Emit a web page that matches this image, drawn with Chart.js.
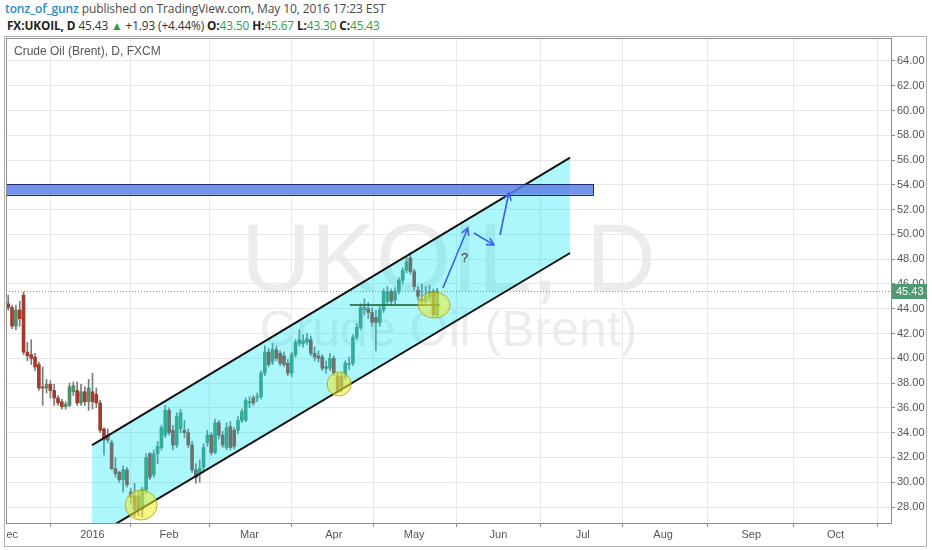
<!DOCTYPE html>
<html>
<head>
<meta charset="utf-8">
<script src="https://cdn.jsdelivr.net/npm/chart.js@4.4.0/dist/chart.umd.min.js"></script>
<style>
html,body{margin:0;padding:0;background:#fff;width:932px;height:550px;overflow:hidden;}
#h1{position:absolute;left:5px;top:0px;font-family:"Open Sans","Liberation Sans",sans-serif;font-size:12px;color:#4a4a4a;white-space:nowrap;letter-spacing:-0.1px}
#h1 .u{color:#2b8cc4;font-weight:600}
#h2{position:absolute;left:7px;top:17px;font-family:"Open Sans","Liberation Sans",sans-serif;font-size:11.8px;color:#333;white-space:nowrap;letter-spacing:-0.1px}
#h2 b{font-weight:700;color:#222}
#h2 .g{color:#2e9e3c}
.wm{position:absolute;font-family:"Liberation Sans",Arial,sans-serif;color:rgba(0,0,0,0.075);white-space:nowrap;text-align:center;width:885px;left:6px}
#wm1{top:208px;font-size:97px;line-height:100px}
#wm2{top:301px;font-size:50px;line-height:56px}
#sym{position:absolute;left:14px;top:44px;font-family:"Liberation Sans",Arial,sans-serif;font-size:12px;color:#555}
#q{position:absolute;left:461px;top:250px;font-family:"Liberation Sans",Arial,sans-serif;font-size:13px;color:#333}
#wrap{position:absolute;left:0;top:0;width:932px;height:550px}
</style>
</head>
<body>
<div id="h1"><span class="u">tonz_of_gunz</span> published on TradingView.com, May 10, 2016 17:23 EST</div>
<div id="h2"><b>FX:UKOIL, D</b> 45.43 <span class="g">&#9650;</span> +1.93 (+4.44%) <b>O:</b><span class="g">43.50</span> <b>H:</b><span class="g">45.67</span> <b>L:</b><span class="g">43.30</span> <b>C:</b><span class="g">45.43</span></div>
<div class="wm" id="wm1">UKOIL, D</div>
<div class="wm" id="wm2">Crude Oil (Brent)</div>
<div id="wrap"><canvas id="c" width="932" height="550"></canvas></div>
<div id="sym">Crude Oil (Brent), D, FXCM</div>
<div id="q">?</div>
<script>
// ---- data ----
const monthTickBars   = [-22, 0, 20, 41, 63, 84, 106, 128, 149, 172, 194];
const monthTickLabels = ['Dec', '2016', 'Feb', 'Mar', 'Apr', 'May', 'Jun', 'Jul', 'Aug', 'Sep', 'Oct'];
const firstBar = -22; // bar index of first candle (Jan 4 2016 = 0)

const opens  = [44.4,44.1,42.6,43.9,45.1,40.5,40.3,40.1,39.5,37.7,37.6,37.9,37.4,36.8,36.5,36.1,36.2,37.3,37.4,36.4,37.3,36.5,
                37.3,37.1,36.4,34.3,33.8,33.2,31.1,30.8,30.2,31.0,29.2,28.9,28.9,27.8,29.4,32.3,30.6,32.3,32.8,33.8,
                35.8,34.2,33.0,34.3,34.2,34.0,33.0,31.0,30.7,31.2,33.2,33.8,32.4,34.8,33.8,32.8,34.5,34.2,34.2,35.0,
                35.0,36.4,36.8,36.8,36.9,38.8,40.5,39.7,40.7,40.4,40.2,39.6,38.8,40.3,41.2,41.2,41.3,41.5,40.4,40.2,
                40.1,39.3,39.2,40.0,38.6,38.5,38.5,39.5,39.6,41.7,42.5,43.9,44.0,43.7,43.3,42.9,43.9,44.6,45.4,44.7,
                45.4,46.3,47.1,48.1,47.0,45.5,44.8,44.6,44.9,45.4,43.5];
const highs  = [45.1,44.3,44.3,44.6,45.35,41.3,41.5,40.4,39.7,39.3,38.3,38.2,37.9,37.0,36.7,36.5,38.0,38.1,38.1,37.9,37.7,38.3,
                38.8,37.6,36.6,34.4,34.3,33.4,32.0,30.9,31.3,31.2,29.5,29.9,29.3,29.6,32.3,32.4,32.6,33.3,34.6,36.2,
                36.0,34.6,35.6,35.9,35.0,34.3,33.3,31.5,31.8,33.1,34.2,34.0,35.1,35.0,34.1,34.8,34.9,34.4,35.3,35.9,
                36.8,36.9,37.0,37.2,39.0,41.0,40.8,41.2,41.0,40.6,40.5,39.9,40.5,41.5,42.3,41.9,42.0,41.8,40.9,40.6,
                40.3,39.8,40.4,40.2,38.8,38.8,39.8,40.1,41.9,42.8,44.4,44.8,44.5,44.1,43.9,44.2,45.6,45.8,45.6,45.7,
                46.5,47.3,48.2,48.5,47.2,45.8,46.0,45.8,45.9,45.6,45.67];
const lows   = [43.9,42.4,42.3,42.6,40.3,39.8,39.5,39.0,37.4,36.2,37.2,36.8,36.2,36.2,35.9,35.9,36.1,37.0,36.2,36.2,36.2,35.8,
                35.9,36.0,34.0,32.2,33.2,31.0,30.4,30.0,29.2,29.6,28.3,27.2,27.3,27.2,29.1,30.2,30.4,31.5,32.6,33.6,
                33.8,32.6,32.8,34.0,33.6,32.8,30.8,29.9,30.0,30.8,32.9,32.2,32.3,33.5,32.8,32.6,32.6,32.7,33.9,34.8,
                34.9,36.0,36.2,36.5,36.7,38.6,39.3,39.5,39.8,39.4,39.3,38.6,38.5,40.1,41.0,40.9,41.1,40.2,39.8,39.7,
                39.0,38.8,39.0,38.6,37.2,37.3,38.3,39.1,39.4,41.5,42.3,43.5,43.2,42.6,40.6,42.6,43.7,44.3,44.3,44.4,
                45.2,46.0,46.9,46.8,45.5,44.7,44.3,44.3,44.6,43.3,43.3];
const closes = [44.1,42.6,43.9,43.2,40.5,40.2,40.0,39.3,37.6,37.6,37.9,37.4,36.8,36.4,36.1,36.3,37.7,37.8,36.4,37.3,36.5,37.6,
                36.5,36.4,34.2,33.4,33.4,31.1,30.7,30.2,31.0,29.8,28.8,27.8,27.8,29.4,32.0,30.4,32.3,32.9,34.4,35.8,
                34.0,33.0,35.3,35.6,34.0,33.0,31.0,30.4,31.1,32.8,33.8,32.4,34.8,33.8,33.0,34.4,32.8,32.9,35.0,35.7,
                36.6,36.5,36.4,36.9,38.8,40.5,39.5,40.7,40.0,39.6,39.5,38.8,40.3,41.3,41.5,41.4,41.6,40.4,40.1,40.0,
                39.2,39.2,40.0,38.8,37.4,37.7,39.6,39.6,41.7,42.5,44.1,44.1,43.7,42.9,42.9,43.9,45.4,45.4,44.6,45.4,
                46.3,47.1,47.8,47.0,45.8,45.0,44.6,45.0,45.4,43.5,45.43];
const lastClose = 45.43;

// drawings (bar index, price)
const channelX     = [-0.1, 124.7];
const channelUpper = [33.0, 56.2];
const channelLower = [25.5, 48.5];
const zoneX = [-22.6, 130.7];
const zoneY = [53.2, 54.05];
const circleX = [12.7, 64.4, 89.2];
const circleY = [28.16, 37.93, 44.30];
const hLineX = [67.2, 90.7];
const hLineY = 44.3;
const arrowFrom = [[91.5, 45.68], [99.6, 50.11], [106.4, 49.95]];
const arrowTo   = [[98.0, 50.52], [104.8, 49.15], [108.7, 53.34]];

// ---- chart ----
const UP = '#4f8f6b', DOWN = '#a33a2b', WICK = '#7c7c7c';
const bodyData = opens.map((o, k) => ({x: firstBar + k, y: [o, closes[k]]}));
const wickData = opens.map((o, k) => ({x: firstBar + k, y: [lows[k], highs[k]]}));
const colorOf = ctx => closes[ctx.dataIndex] >= opens[ctx.dataIndex] ? UP : DOWN;

const overlay = {
  id: 'overlay',
  beforeDatasetsDraw(chart) {
    const {ctx, chartArea: a, scales: {x, y}} = chart;
    ctx.save();
    ctx.strokeStyle = '#8a8a8a';
    ctx.lineWidth = 1;
    ctx.setLineDash([1, 2]);
    const py = Math.round(y.getPixelForValue(lastClose)) + 0.5;
    ctx.beginPath(); ctx.moveTo(a.left, py); ctx.lineTo(a.right, py); ctx.stroke();
    ctx.restore();
  },
  afterDatasetsDraw(chart) {
    const {ctx, chartArea: a, scales: {x, y}} = chart;
    ctx.save();
    ctx.beginPath(); ctx.rect(a.left, a.top, a.right - a.left, a.bottom - a.top); ctx.clip();
    // horizontal green line
    ctx.strokeStyle = 'rgba(40,110,60,0.85)';
    ctx.lineWidth = 2;
    ctx.beginPath();
    ctx.moveTo(x.getPixelForValue(hLineX[0]), y.getPixelForValue(hLineY));
    ctx.lineTo(x.getPixelForValue(hLineX[1]), y.getPixelForValue(hLineY));
    ctx.stroke();
    // yellow circles
    const rx = [16, 12, 16], ry = [15, 12, 13];
    circleX.forEach((cx, k) => {
      ctx.beginPath();
      ctx.ellipse(x.getPixelForValue(cx), y.getPixelForValue(circleY[k]), rx[k], ry[k], 0, 0, Math.PI * 2);
      ctx.fillStyle = 'rgba(240,235,40,0.55)';
      ctx.fill();
      ctx.strokeStyle = 'rgba(170,160,30,0.8)';
      ctx.lineWidth = 1;
      ctx.stroke();
    });
    // blue zone
    const zx0 = x.getPixelForValue(zoneX[0]), zx1 = x.getPixelForValue(zoneX[1]);
    const zy0 = y.getPixelForValue(zoneY[1]), zy1 = y.getPixelForValue(zoneY[0]);
    ctx.fillStyle = 'rgba(92,128,230,0.85)';
    ctx.fillRect(zx0, zy0, zx1 - zx0, zy1 - zy0);
    ctx.strokeStyle = '#1b2a6e';
    ctx.lineWidth = 1;
    ctx.strokeRect(Math.round(zx0) + 0.5, Math.round(zy0) + 0.5, Math.round(zx1 - zx0), Math.round(zy1 - zy0));
    // arrows
    ctx.strokeStyle = '#3a5ff0';
    ctx.lineWidth = 1.6;
    arrowFrom.forEach((f, k) => {
      const x0 = x.getPixelForValue(f[0]), y0 = y.getPixelForValue(f[1]);
      const x1 = x.getPixelForValue(arrowTo[k][0]), y1 = y.getPixelForValue(arrowTo[k][1]);
      const ang = Math.atan2(y1 - y0, x1 - x0), h = 8;
      ctx.beginPath();
      ctx.moveTo(x0, y0); ctx.lineTo(x1, y1);
      ctx.moveTo(x1 - h * Math.cos(ang - 0.5), y1 - h * Math.sin(ang - 0.5));
      ctx.lineTo(x1, y1);
      ctx.lineTo(x1 - h * Math.cos(ang + 0.5), y1 - h * Math.sin(ang + 0.5));
      ctx.stroke();
    });
    ctx.restore();
  },
  afterDraw(chart) {
    const {ctx, chartArea: a, scales: {y}} = chart;
    ctx.save();
    // left margin strip (hides the clipped part of the first month label)
    ctx.fillStyle = '#fff';
    ctx.fillRect(0, a.bottom + 1, a.left + 1, 22);
    ctx.strokeStyle = '#8d8d8d';
    ctx.lineWidth = 1;
    ctx.strokeRect(a.left + 0.5, a.top + 0.5, a.right - a.left, a.bottom - a.top);
    ctx.strokeStyle = '#b0b0b0';
    ctx.strokeRect(4.5, 36.5, 922, 510);
    // last price label
    const py = y.getPixelForValue(lastClose);
    ctx.fillStyle = '#4f9a72';
    ctx.fillRect(a.right + 1, py - 7, 35, 15);
    ctx.fillStyle = '#fff';
    ctx.font = '11px "Liberation Sans", Arial, sans-serif';
    ctx.textBaseline = 'middle';
    ctx.textAlign = 'left';
    ctx.fillText(lastClose.toFixed(2), a.right + 5, py + 0.5);
    ctx.restore();
  }
};

new Chart(document.getElementById('c'), {
  type: 'bar',
  data: {
    datasets: [
      {type: 'line', label: 'lower', data: channelX.map((v, k) => ({x: v, y: channelLower[k]})),
       borderColor: '#111', borderWidth: 2, pointRadius: 0, fill: false, order: 1},
      {type: 'line', label: 'upper', data: channelX.map((v, k) => ({x: v, y: channelUpper[k]})),
       borderColor: '#111', borderWidth: 2, pointRadius: 0, fill: '-1', backgroundColor: 'rgba(0,232,242,0.33)', order: 2},
      {label: 'body', data: bodyData, backgroundColor: colorOf, borderWidth: 0, barThickness: 3,
       minBarLength: 1, grouped: false, order: 5},
      {label: 'wick', data: wickData, backgroundColor: WICK, borderWidth: 0, barThickness: 1,
       grouped: false, order: 6}
    ]
  },
  options: {
    responsive: false,
    animation: false,
    events: [],
    layout: {padding: {left: 6, top: 38, right: 0, bottom: 0}},
    plugins: {legend: {display: false}, tooltip: {enabled: false}},
    scales: {
      x: {
        type: 'linear', min: -22.58, max: 208.49, offset: false,
        afterBuildTicks: s => { s.ticks = monthTickBars.map(v => ({value: v})); },
        afterFit: s => { s.height = 27; s.paddingLeft = 0; s.paddingRight = 0; },
        ticks: {
          autoSkip: false, maxRotation: 0, padding: 1, color: '#555',
          font: {family: '"Liberation Sans Narrow","Liberation Sans",Arial,sans-serif', size: 11},
          callback: v => monthTickLabels[monthTickBars.indexOf(v)]
        },
        grid: {color: '#e8e8e8', tickLength: 4, tickColor: '#8d8d8d'},
        border: {display: false}
      },
      y: {
        position: 'right', min: 26.71, max: 65.85,
        afterFit: s => { s.width = 41; s.paddingTop = 0; s.paddingBottom = 0; },
        ticks: {stepSize: 2, includeBounds: false, padding: 2, color: '#555',
                font: {family: '"Liberation Sans",Arial,sans-serif', size: 11},
                callback: v => v.toFixed(2)},
        grid: {color: '#e8e8e8', tickLength: 4, tickColor: '#8d8d8d'},
        border: {display: false}
      }
    }
  },
  plugins: [overlay]
});
</script>
</body>
</html>
